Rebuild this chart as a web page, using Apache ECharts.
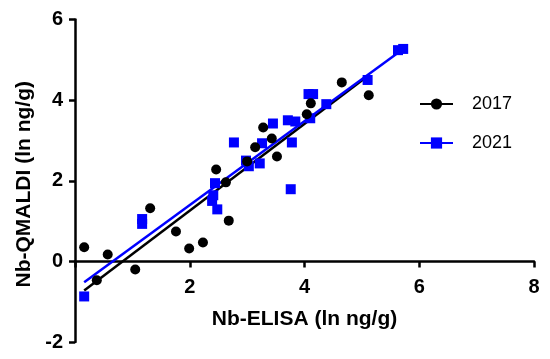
<!DOCTYPE html>
<html><head><meta charset="utf-8">
<script src="https://cdn.jsdelivr.net/npm/echarts@6/dist/echarts.min.js"></script>
<style>html,body{margin:0;padding:0;background:#fff}#c{width:550px;height:359px}</style>
</head><body><div id="c"></div>
<script>
const seriesNames = ['2017', '2021'];
const xTicks = [0, 2, 4, 6, 8];
const yTicks = [-2, 0, 2, 4, 6];
const xTitle = 'Nb-ELISA (ln ng/g)';
const yTitle = 'Nb-QMALDI (ln ng/g)';
const pts2017 = [[0.16,0.35],[0.38,-0.47],[0.57,0.17],[1.05,-0.2],[1.31,1.32],[1.76,0.74],[1.99,0.32],[2.23,0.47],[2.46,2.28],[2.63,1.96],[2.68,1.01],[3.0,2.48],[3.14,2.83],[3.28,3.32],[3.43,3.05],[3.52,2.6],[4.04,3.65],[4.11,3.92],[4.65,4.44],[5.12,4.12]];
const pts2021 = [[0.16,-0.87],[1.17,1.05],[1.17,0.93],[2.44,1.94],[2.41,1.64],[2.39,1.5],[2.48,1.29],[2.77,2.95],[2.98,2.5],[3.03,2.36],[3.22,2.43],[3.26,2.93],[3.45,3.42],[3.71,3.5],[3.84,3.47],[3.78,2.95],[3.76,1.79],[4.07,4.15],[4.15,4.15],[4.1,3.55],[4.38,3.9],[5.1,4.5],[5.63,5.24],[5.72,5.27]];
const fit2017 = [[0.16,-0.72],[5.12,4.62]];
const fit2021 = [[0.16,-0.52],[5.72,5.27]];
const colors = ['#000000', '#0000ff'];
const symbols = ['circle', 'rect'];

const font = "'Liberation Sans', Arial, Helvetica, sans-serif";
const W = 550, H = 359;
const grid = {left: 75, right: 16, top: 19.5, bottom: 17};
const yMin = yTicks[0], yMax = yTicks[yTicks.length - 1];
const plotH = H - grid.top - grid.bottom;
// move the x axis (line, ticks, labels, name) up to y = 0
const xOffset = -((0 - yMin) / (yMax - yMin)) * plotH;

const chart = echarts.init(document.getElementById('c'), null, {renderer: 'canvas'});
const fits = [fit2017, fit2021];
const pts = [pts2017, pts2021];
const series = [];
seriesNames.forEach((n, i) => {
  series.push({
    name: n, type: 'line', data: fits[i], symbol: symbols[i], symbolSize: 10,
    showSymbol: false, z: 2, silent: true,
    lineStyle: {color: colors[i], width: 2.5}, itemStyle: {color: colors[i]}
  });
});
seriesNames.forEach((n, i) => {
  series.push({
    name: n, type: 'scatter', data: pts[i], symbol: symbols[i], symbolSize: 10,
    z: i === 0 ? 4 : 3, itemStyle: {color: colors[i], opacity: 1}
  });
});
chart.setOption({
  animation: false,
  backgroundColor: '#fff',
  textStyle: {fontFamily: font},
  grid: Object.assign({containLabel: false, outerBoundsMode: 'none'}, grid),
  legend: {
    data: seriesNames, orient: 'vertical', left: 419, top: 95, padding: 0,
    itemWidth: 33, itemHeight: 14, itemGap: 21,
    textStyle: {fontSize: 18, color: '#000', fontFamily: font, padding: [0,0,0,14]}
  },
  xAxis: {
    type: 'value', min: xTicks[0], max: xTicks[xTicks.length-1], interval: 2,
    position: 'bottom', offset: xOffset,
    name: xTitle, nameLocation: 'middle', nameGap: 47,
    nameTextStyle: {fontSize: 21, fontWeight: 'bold', color: '#000', fontFamily: font},
    axisLine: {onZero: false, lineStyle: {color: '#000', width: 2.5}},
    axisTick: {show: true, length: 6, lineStyle: {color: '#000', width: 2.5}},
    splitLine: {show: false},
    axisLabel: {fontSize: 20, fontWeight: 'bold', color: '#000', margin: 16, fontFamily: font,
      formatter: v => v === 0 ? '' : String(v)}
  },
  yAxis: {
    type: 'value', min: yMin, max: yMax, interval: 2,
    name: yTitle, nameLocation: 'middle', nameGap: 29, nameRotate: 90,
    nameTextStyle: {fontSize: 21, fontWeight: 'bold', color: '#000', fontFamily: font, padding: [0, 7, 0, 0]},
    axisLine: {onZero: false, lineStyle: {color: '#000', width: 2.5}},
    axisTick: {show: true, length: 6, lineStyle: {color: '#000', width: 2.5}},
    splitLine: {show: false},
    axisLabel: {fontSize: 20, fontWeight: 'bold', color: '#000', margin: 12, fontFamily: font}
  },
  series: series
});
</script></body></html>
